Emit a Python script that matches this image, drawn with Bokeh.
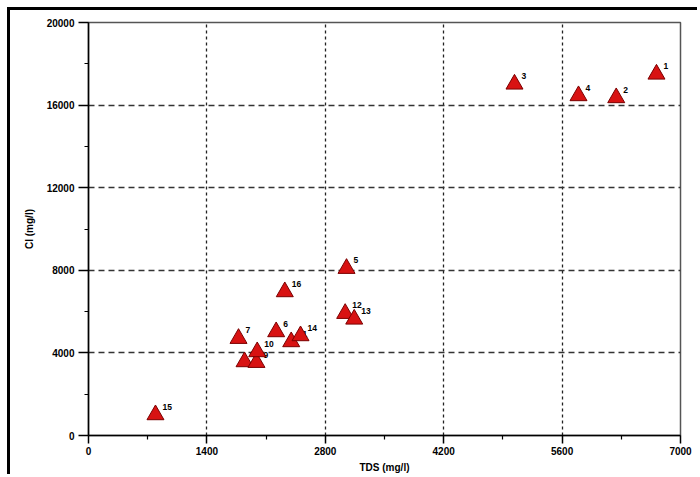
from bokeh.plotting import figure
from bokeh.models import FixedTicker, ColumnDataSource
from bokeh.core.properties import value
from bokeh.embed import file_html
from bokeh.resources import INLINE

# ---- data ----
ids = ["1", "2", "3", "4", "5", "6", "7", "8", "9", "10", "11", "12", "13", "14", "15", "16"]
tds = [6716, 6240, 5037, 5794, 3051, 2219, 1774, 1845, 1986, 1995, 2397, 3035, 3142, 2507, 792, 2321]
cl = [17497, 16355, 17014, 16452, 8088, 5022, 4698, 3569, 3535, 4054, 4538, 5908, 5632, 4828, 1002, 6959]

x_ticks = [0, 1400, 2800, 4200, 5600, 7000]
x_minor = [700, 2100, 3500, 4900, 6300]
y_ticks = [0, 4000, 8000, 12000, 16000, 20000]
y_minor = [2000, 6000, 10000, 14000, 18000]

x_title = "TDS (mg/l)"
y_title = "Cl (mg/l)"

src = ColumnDataSource(dict(x=tds, y=cl, label=ids))

FONT = "Liberation Sans"

p = figure(width=690, height=467, x_range=(0, 7000), y_range=(0, 20000),
           output_backend="svg", toolbar_location=None,
           min_border_left=78, min_border_right=20, min_border_top=12, min_border_bottom=42,
           background_fill_color="white", border_fill_color="white")
p.styles = {"margin-left": "7px", "margin-top": "7px",
            "border-top": "3px solid black", "border-left": "3px solid black"}

p.outline_line_color = "#555555"
p.outline_line_width = 1.5

# axes
p.xaxis.ticker = FixedTicker(ticks=x_ticks, minor_ticks=x_minor)
p.yaxis.ticker = FixedTicker(ticks=y_ticks, minor_ticks=y_minor)
for ax in (p.xaxis[0], p.yaxis[0]):
    ax.axis_line_color = "black"
    ax.axis_line_width = 1.5
    ax.major_tick_line_color = "black"
    ax.major_tick_line_width = 1.5
    ax.minor_tick_line_color = "black"
    ax.minor_tick_line_width = 1.2
    ax.major_tick_in = 0
    ax.minor_tick_in = 0
    ax.minor_tick_out = 4
    ax.major_label_text_font = FONT
    ax.major_label_text_font_style = "bold"
    ax.major_label_text_font_size = "10px"
    ax.major_label_text_color = "black"
    ax.axis_label_text_font = FONT
    ax.axis_label_text_font_style = "bold"
    ax.axis_label_text_font_size = "10px"
    ax.axis_label_text_color = "black"
p.xaxis.major_tick_out = 8
p.yaxis.major_tick_out = 10
p.xaxis.major_label_standoff = 3
p.yaxis.major_label_standoff = 4
p.xaxis.axis_label = x_title
p.yaxis.axis_label = y_title
p.xaxis.axis_label_standoff = 4
p.yaxis.axis_label_standoff = 9

# grid
p.xgrid.ticker = FixedTicker(ticks=x_ticks[1:-1])
p.ygrid.ticker = FixedTicker(ticks=y_ticks[1:-1])
p.xgrid.grid_line_color = "#222222"
p.xgrid.grid_line_dash = "3 3"
p.xgrid.grid_line_width = 1.3
p.ygrid.grid_line_color = "#333333"
p.ygrid.grid_line_dash = "6 4"
p.ygrid.grid_line_width = 1.3

# labels first (triangles drawn on top, hiding overlapped labels)
p.text(x="x", y="y", text="label", source=src, x_offset=7, y_offset=-8,
       text_align="left", text_baseline="middle",
       text_font=value(FONT), text_font_style="bold", text_font_size="8.5px",
       text_color="black")

p.scatter(x="x", y="y", source=src, marker="triangle", size=17,
          fill_color="#d81212", line_color="#7a0000", line_width=1)

open("out.html", "w").write(file_html(p, INLINE))
